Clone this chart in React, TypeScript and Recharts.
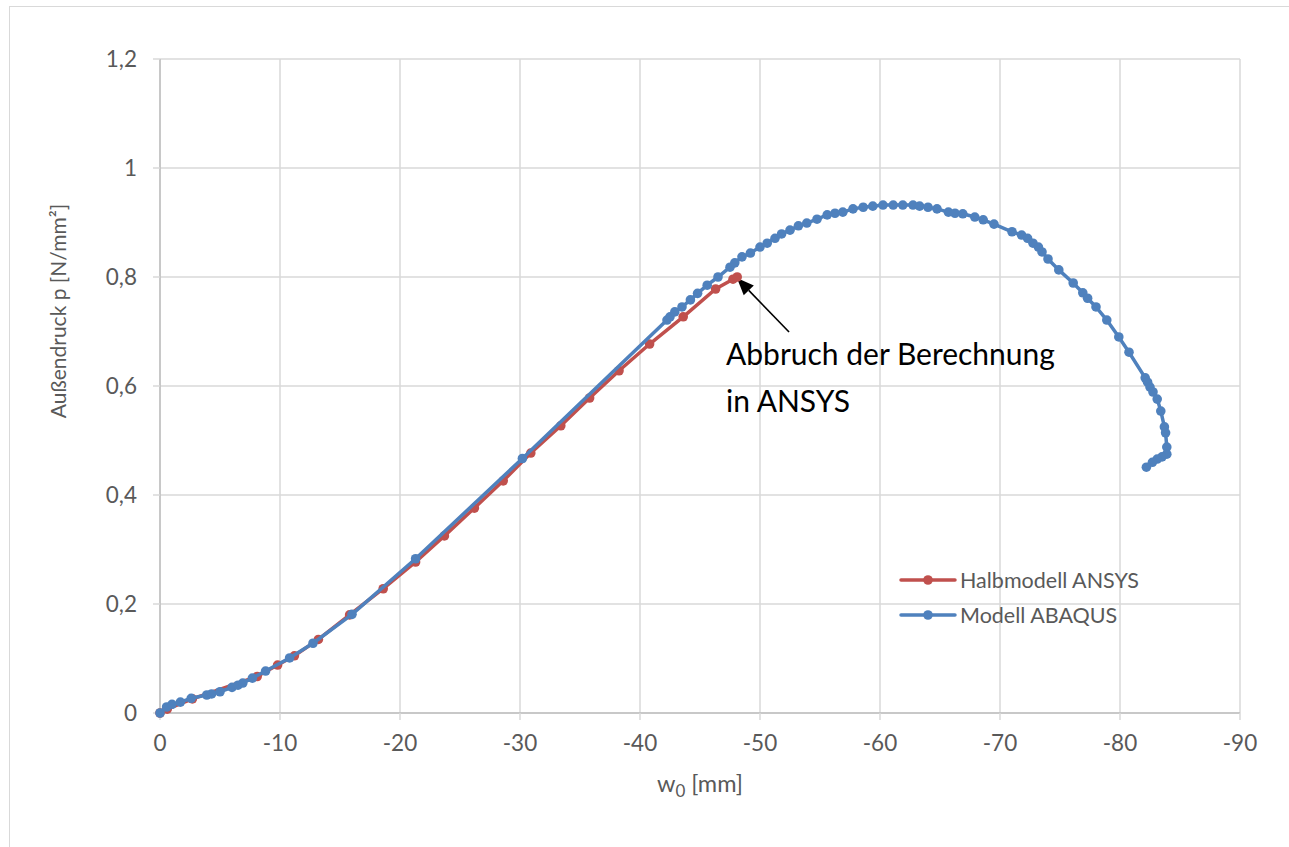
import React from 'react';
import {
  ComposedChart, Scatter, XAxis, YAxis, CartesianGrid, Legend, ReferenceLine, ReferenceDot,
} from 'recharts';

// ---- data ----
const ansysX = [0, -0.6, -2.7, -8.1, -9.8, -11.2, -13.2, -15.8, -18.6, -21.3, -23.7, -26.2, -28.6, -30.9, -33.4, -35.8, -38.25, -40.8, -43.6, -46.3, -47.75, -48.1];
const ansysY = [0, 0.007, 0.026, 0.067, 0.088, 0.105, 0.135, 0.18, 0.228, 0.277, 0.325, 0.376, 0.426, 0.477, 0.527, 0.578, 0.628, 0.677, 0.727, 0.778, 0.796, 0.8];

const abaqusX = [0, -0.55, -1, -1.7, -2.6, -3.9, -4.3, -5, -6, -6.5, -6.9, -7.7, -8.8, -10.8, -12.75, -16, -21.3, -30.2,
  -42.25, -42.5, -42.9, -43.5, -44.2, -44.8, -45.6, -46.5, -47.5, -47.9, -48.5, -49.2, -50, -50.6, -51.25, -51.8, -52.5,
  -53.2, -53.9, -54.75, -55.6, -56.25, -56.9, -57.75, -58.6, -59.4, -60.25, -61.1, -61.9, -62.75, -63.3, -64, -64.75,
  -65.7, -66.25, -66.9, -67.9, -68.6, -69.5, -71, -71.8, -72.3, -72.75, -73.2, -73.5, -74, -74.9, -76.1, -76.9, -77.3,
  -78, -78.9, -79.9, -80.75, -82.1, -82.3, -82.5, -82.75, -83.1, -83.4, -83.7, -83.8, -83.9, -83.9, -83.5, -83.1, -82.7, -82.2];
const abaqusY = [0, 0.011, 0.016, 0.02, 0.027, 0.033, 0.035, 0.039, 0.047, 0.051, 0.055, 0.064, 0.077, 0.101, 0.128, 0.181, 0.283, 0.467,
  0.721, 0.727, 0.736, 0.745, 0.758, 0.77, 0.785, 0.8, 0.818, 0.826, 0.837, 0.844, 0.855, 0.862, 0.871, 0.879, 0.886,
  0.894, 0.899, 0.906, 0.914, 0.917, 0.919, 0.925, 0.928, 0.93, 0.932, 0.932, 0.932, 0.932, 0.93, 0.928, 0.925,
  0.919, 0.917, 0.916, 0.91, 0.905, 0.897, 0.883, 0.877, 0.871, 0.862, 0.855, 0.846, 0.833, 0.813, 0.789, 0.771, 0.761,
  0.745, 0.721, 0.69, 0.662, 0.615, 0.607, 0.598, 0.589, 0.576, 0.554, 0.525, 0.514, 0.488, 0.475, 0.47, 0.466, 0.46, 0.451];

const xTicks = [0, -10, -20, -30, -40, -50, -60, -70, -80, -90];
const yTicks = [0, 0.2, 0.4, 0.6, 0.8, 1, 1.2];
const yTickLabels = ['0', '0,2', '0,4', '0,6', '0,8', '1', '1,2'];

const seriesNames = ['Halbmodell ANSYS', 'Modell ABAQUS'];
const seriesColors = ['#C0504D', '#4F81BD'];

const annotationLines = ['Abbruch der Berechnung', 'in ANSYS'];
const annotationAnchor = { x: -47.17, y: 0.6385 };
const arrowTail = { x: -52.42, y: 0.699 };
const arrowHead = { x: -48.08, y: 0.798 };

const ansysData = ansysX.map((x, i) => ({ x, y: ansysY[i] }));
const abaqusData = abaqusX.map((x, i) => ({ x, y: abaqusY[i] }));

const FONT = 'Lato, "Open Sans", sans-serif';
const GREY = '#595959';

const dot = (color: string) => (p: any) => (
  <circle cx={p.cx} cy={p.cy} r={4.8} fill={color} stroke="none" />
);

const ArrowShape = (p: any) => {
  const { x1, y1, x2, y2 } = p;
  const dx = x2 - x1, dy = y2 - y1;
  const len = Math.sqrt(dx * dx + dy * dy);
  const ux = dx / len, uy = dy / len;
  const hl = 17, hw = 7;
  const bx = x2 - ux * hl, by = y2 - uy * hl;
  const pts = `${x2},${y2} ${bx - uy * hw},${by + ux * hw} ${bx + uy * hw},${by - ux * hw}`;
  return (
    <g>
      <line x1={x1} y1={y1} x2={bx} y2={by} stroke="#000" strokeWidth={1.6} />
      <polygon points={pts} fill="#000" />
    </g>
  );
};

const AnnotationShape = (p: any) => (
  <text x={p.cx} y={p.cy} fill="#000" fontFamily={FONT} fontSize={30} textAnchor="start">
    <tspan x={p.cx} y={p.cy}>{annotationLines[0]}</tspan>
    <tspan x={p.cx} y={p.cy + 47}>{annotationLines[1]}</tspan>
  </text>
);

const LegendContent = () => (
  <div style={{ fontFamily: FONT, fontSize: 21.5, color: GREY }}>
    {seriesNames.map((n, i) => (
      <div key={n} style={{ display: 'flex', alignItems: 'center', height: 35 }}>
        <svg width={60} height={12} style={{ marginRight: 2 }}>
          <line x1={3} y1={6} x2={57} y2={6} stroke={seriesColors[i]} strokeWidth={3.5} strokeLinecap="round" />
          <circle cx={30} cy={6} r={4.8} fill={seriesColors[i]} />
        </svg>
        <span>{n}</span>
      </div>
    ))}
  </div>
);

const YLabel = () => (
  <text x={66} y={311} transform="rotate(-90, 66, 311)" textAnchor="middle" fill={GREY} fontFamily={FONT} fontSize={21}>
    Außendruck p [N/mm²]
  </text>
);

const XLabel = (p: any) => {
  const vb = p.viewBox;
  const cx = vb.x + vb.width / 2;
  return (
    <text x={cx} y={792} textAnchor="middle" fill={GREY} fontFamily={FONT} fontSize={23.5}>
      w<tspan fontSize={17} dy={5}>0</tspan><tspan dy={-5}> [mm]</tspan>
    </text>
  );
};

export default function App() {
  return (
    <div style={{ position: 'relative', width: 1289, height: 847, overflow: 'hidden', background: '#fff' }}>
      <style>{'body{margin:0;background:#fff}'}</style>
      <div style={{ position: 'absolute', left: 9, top: 6, width: 1400, height: 1000, border: '1px solid #d9d9d9' }} />
      <div style={{ position: 'absolute', left: 0, top: 0 }}>
        <ComposedChart width={1289} height={847} margin={{ top: 59, right: 49, bottom: 74, left: 0 }}>
          <CartesianGrid stroke="#d9d9d9" strokeWidth={1.5} />
          <XAxis
            type="number" dataKey="x" domain={[-90, 0]} reversed ticks={xTicks} interval={0}
            height={60}
            axisLine={{ stroke: '#bfbfbf', strokeWidth: 1.5 }} tickLine={{ stroke: '#d9d9d9', strokeWidth: 1.5 }}
            tickSize={7} tickMargin={15}
            tick={{ fill: GREY, fontFamily: FONT, fontSize: 22.5 }}
            label={<XLabel />}
          />
          <YAxis
            type="number" dataKey="y" domain={[0, 1.2]} ticks={yTicks} interval={0} width={160}
            axisLine={{ stroke: '#bfbfbf', strokeWidth: 1.5 }} tickLine={{ stroke: '#d9d9d9', strokeWidth: 1.5 }}
            tickSize={7} tickMargin={16}
            tickFormatter={(v: number) => yTickLabels[yTicks.indexOf(v)] ?? String(v)}
            tick={{ fill: GREY, fontFamily: FONT, fontSize: 22.5 }}
            label={<YLabel />}
          />
          <Scatter
            name={seriesNames[0]} data={ansysData} fill={seriesColors[0]}
            line={{ stroke: seriesColors[0], strokeWidth: 3.5 }} lineType="joint"
            shape={dot(seriesColors[0])} isAnimationActive={false}
          />
          <Scatter
            name={seriesNames[1]} data={abaqusData} fill={seriesColors[1]}
            line={{ stroke: seriesColors[1], strokeWidth: 3.5 }} lineType="joint"
            shape={dot(seriesColors[1])} isAnimationActive={false}
          />
          <ReferenceLine segment={[arrowTail, arrowHead]} shape={ArrowShape} ifOverflow="visible" />
          <ReferenceDot x={annotationAnchor.x} y={annotationAnchor.y} r={0} shape={AnnotationShape} ifOverflow="visible" />
          <Legend
            layout="vertical" align="center" verticalAlign="middle"
            content={<LegendContent />}
            wrapperStyle={{ left: 898, top: 562, width: 280, height: 70 }}
          />
        </ComposedChart>
      </div>
    </div>
  );
}
